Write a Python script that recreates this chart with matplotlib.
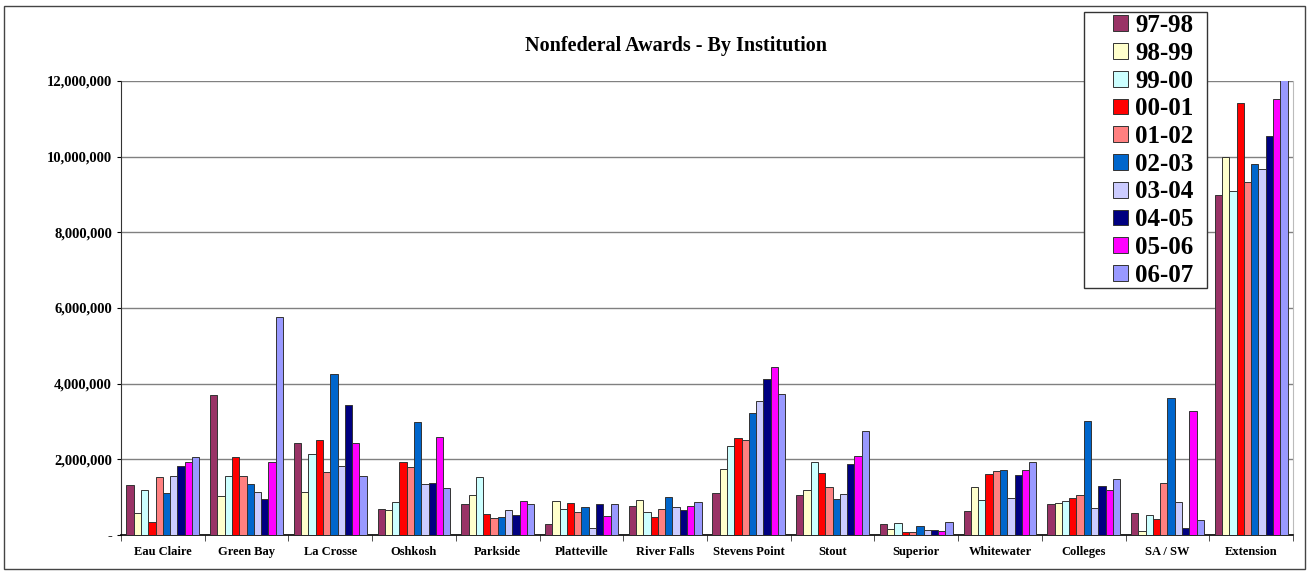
import numpy as np
import matplotlib
matplotlib.use('Agg')
import matplotlib.pyplot as plt
from matplotlib.ticker import FuncFormatter, FixedLocator

plt.rcParams['font.family'] = ['Liberation Serif', 'DejaVu Serif']

# institutions and years
institutions = ['Eau Claire', 'Green Bay', 'La Crosse', 'Oshkosh', 'Parkside', 'Platteville',
                'River Falls', 'Stevens Point', 'Stout', 'Superior', 'Whitewater', 'Colleges',
                'SA / SW', 'Extension']
years = ['97-98', '98-99', '99-00', '00-01', '01-02', '02-03', '03-04', '04-05', '05-06', '06-07']
colors = ['#993366', '#FFFFCC', '#CCFFFF', '#FF0000', '#FF8080', '#0066CC', '#CCCCFF',
          '#000080', '#FF00FF', '#9999FF']

# values in dollars, one list per year (order = institutions)
v97_98 = [1330000, 3700000, 2430000, 700000, 820000, 300000, 770000, 1100000, 1070000, 300000, 630000, 820000, 580000, 9000000]
v98_99 = [570000, 1030000, 1130000, 650000, 1050000, 900000, 920000, 1750000, 1180000, 150000, 1270000, 850000, 100000, 9980000]
v99_00 = [1200000, 1570000, 2130000, 880000, 1520000, 700000, 620000, 2350000, 1930000, 320000, 930000, 900000, 520000, 9100000]
v00_01 = [350000, 2070000, 2520000, 1920000, 550000, 850000, 480000, 2570000, 1650000, 70000, 1620000, 980000, 430000, 11430000]
v01_02 = [1520000, 1570000, 1670000, 1800000, 450000, 600000, 680000, 2500000, 1280000, 70000, 1700000, 1050000, 1380000, 9330000]
v02_03 = [1100000, 1350000, 4250000, 3000000, 480000, 750000, 1000000, 3230000, 950000, 230000, 1720000, 3020000, 3630000, 9800000]
v03_04 = [1570000, 1130000, 1830000, 1350000, 650000, 180000, 730000, 3550000, 1080000, 120000, 970000, 720000, 870000, 9680000]
v04_05 = [1830000, 950000, 3430000, 1380000, 530000, 820000, 660000, 4120000, 1870000, 130000, 1580000, 1300000, 180000, 10550000]
v05_06 = [1920000, 1930000, 2420000, 2600000, 900000, 500000, 770000, 4430000, 2100000, 100000, 1720000, 1200000, 3280000, 11530000]
v06_07 = [2070000, 5750000, 1570000, 1250000, 820000, 820000, 870000, 3730000, 2750000, 350000, 1930000, 1480000, 400000, 12200000]
series = [v97_98, v98_99, v99_00, v00_01, v01_02, v02_03, v03_04, v04_05, v05_06, v06_07]

fig = plt.figure(figsize=(13.11, 5.73), dpi=100)
ax = fig.add_axes([121/1311, 1 - 535/573, (1293-121)/1311, (535-81)/573])

# outer chart border
fig.patches.append(plt.Rectangle((4/1311, 4/573), 1301/1311, 563/573, transform=fig.transFigure,
                                 fill=False, edgecolor='#444444', linewidth=1))

x = np.arange(len(institutions))
w = 0.087
for i, (yr, vals, c) in enumerate(zip(years, series, colors)):
    ax.bar(x + (i - 4.5) * w, vals, w, color=c, edgecolor='#333333', linewidth=0.7, label=yr, zorder=3)

ax.set_xlim(-0.5, len(institutions) - 0.5)
ax.set_ylim(0, 12000000)
ax.set_yticks(np.arange(0, 12000001, 2000000))
ax.yaxis.set_major_formatter(FuncFormatter(lambda v, p: '-' if v == 0 else f'{int(v):,}'))
ax.grid(axis='y', color='#808080', linewidth=1, zorder=0)
ax.set_xticks(x)
ax.set_xticklabels(institutions)
ax.xaxis.set_minor_locator(FixedLocator(np.arange(-0.5, len(institutions), 1)))
ax.tick_params(axis='x', which='major', length=0, pad=8)
ax.tick_params(axis='x', which='minor', length=4, direction='out', color='#333333')
ax.tick_params(axis='y', length=3, direction='out')
for lab in ax.get_xticklabels():
    lab.set_fontsize(9)
    lab.set_fontweight('bold')
for lab in ax.get_yticklabels():
    lab.set_fontsize(10.5)
    lab.set_fontweight('bold')

ax.spines['top'].set_visible(False)
ax.spines['right'].set_color('#bbbbbb')
ax.spines['left'].set_color('#333333')
ax.spines['bottom'].set_color('#000000')
ax.spines['bottom'].set_linewidth(1.2)

fig.text(676/1311, 1 - 46/573, 'Nonfederal Awards - By Institution', ha='center', va='center',
         fontsize=14.5, fontweight='bold')

# legend box drawn separately, entries placed inside it
fig.patches.append(plt.Rectangle((1084/1311, 1 - 288/573), 123/1311, 276/573, transform=fig.transFigure,
                                 facecolor='white', edgecolor='#333333', linewidth=1, zorder=5))
leg = fig.legend(loc='upper left', bbox_to_anchor=(1108/1311, 1 - 9/573), prop={'size': 18, 'weight': 'bold'},
                 frameon=False, handlelength=0.6, handleheight=0.6, borderaxespad=0,
                 handletextpad=0.3, labelspacing=0.19, borderpad=0.2)
leg.set_zorder(6)

fig.savefig('out.png', dpi=100)
